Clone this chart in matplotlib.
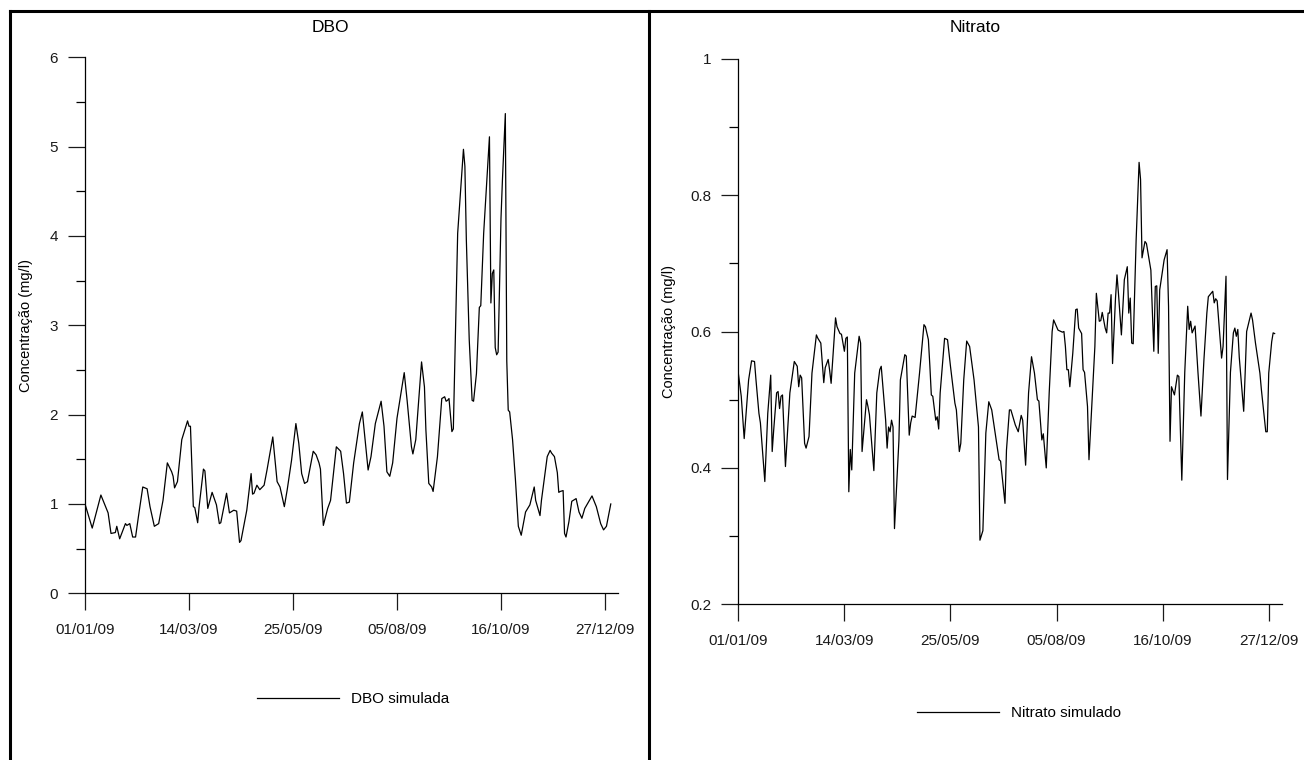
import numpy as np
import matplotlib.pyplot as plt
from matplotlib.lines import Line2D

plt.rcParams['font.family'] = ['Liberation Sans', 'DejaVu Sans']

start = np.datetime64('2009-01-01')
tick_dates = ['2009-01-01', '2009-03-14', '2009-05-25', '2009-08-05', '2009-10-16', '2009-12-27']
tick_labels = ['01/01/09', '14/03/09', '25/05/09', '05/08/09', '16/10/09', '27/12/09']

# DBO simulada (mg/l), dia do ano
dbo_day = [0, 5, 11, 16, 18, 21, 22, 24, 28, 29, 31, 33, 35, 37, 40, 43, 45, 48, 51, 54,
           57, 60, 61, 62, 64, 67, 71, 72, 73, 75, 76, 78, 79, 82, 83, 85, 88, 91, 93, 94,
           98, 100, 103, 105, 107, 108, 112, 115, 116, 117, 119, 121, 124, 126, 130, 133, 135, 138, 140, 143,
           146, 148, 150, 152, 154, 158, 160, 162, 163, 165, 168, 170, 174, 177, 179, 181, 183, 186, 190, 192,
           196, 198, 201, 205, 207, 209, 211, 213, 216, 221, 223, 226, 227, 229, 233, 235, 236, 238, 240, 241,
           244, 247, 249, 250, 251, 252, 254, 255, 258, 262, 263, 264, 266, 268, 269, 271, 273, 274, 276, 280,
           281, 282, 283, 284, 285, 286, 288, 289, 291, 292, 293, 294, 296, 298, 300, 302, 304, 305, 308, 311,
           312, 315, 316, 320, 322, 323, 325, 327, 328, 329, 331, 332, 333, 335, 337, 340, 342, 344, 346, 351,
           354, 357, 359, 361, 364]
dbo_val = [1.00, 0.73, 1.10, 0.90, 0.67, 0.68, 0.75, 0.61, 0.78, 0.76, 0.78, 0.63, 0.63, 0.86, 1.19, 1.17, 0.97, 0.75, 0.78, 1.04,
           1.46, 1.36, 1.31, 1.18, 1.25, 1.72, 1.93, 1.87, 1.87, 0.97, 0.96, 0.79, 0.97, 1.39, 1.37, 0.95, 1.13, 0.99, 0.78, 0.79,
           1.12, 0.90, 0.93, 0.92, 0.57, 0.59, 0.93, 1.34, 1.11, 1.12, 1.21, 1.16, 1.21, 1.38, 1.75, 1.25, 1.19, 0.97, 1.16, 1.49,
           1.90, 1.68, 1.34, 1.23, 1.25, 1.59, 1.55, 1.46, 1.39, 0.76, 0.95, 1.04, 1.64, 1.59, 1.34, 1.01, 1.02, 1.46, 1.90, 2.03,
           1.38, 1.53, 1.90, 2.15, 1.87, 1.36, 1.31, 1.46, 1.96, 2.47, 2.16, 1.64, 1.56, 1.72, 2.59, 2.31, 1.83, 1.23, 1.19, 1.14,
           1.53, 2.18, 2.20, 2.15, 2.16, 2.18, 1.81, 1.84, 4.03, 4.97, 4.78, 3.96, 2.84, 2.16, 2.15, 2.46, 3.20, 3.22, 4.03, 5.11,
           3.25, 3.58, 3.62, 2.75, 2.67, 2.70, 4.20, 4.63, 5.37, 2.60, 2.05, 2.03, 1.72, 1.27, 0.75, 0.65, 0.82, 0.91, 0.99, 1.19,
           1.04, 0.87, 1.04, 1.53, 1.60, 1.57, 1.53, 1.35, 1.13, 1.14, 1.15, 0.67, 0.63, 0.80, 1.03, 1.06, 0.91, 0.84, 0.95, 1.09,
           0.97, 0.78, 0.71, 0.75, 1.00]

# Nitrato simulado (mg/l)
nit_day = [0, 2, 4, 7, 9, 11, 12, 14, 15, 18, 20, 22, 23, 24, 26, 27, 28, 29, 30, 32,
           35, 38, 40, 41, 42, 43, 45, 46, 48, 50, 53, 54, 56, 58, 59, 61, 62, 63, 66, 67,
           69, 70, 72, 73, 74, 75, 76, 77, 79, 82, 83, 84, 87, 88, 89, 92, 94, 96, 97, 100,
           101, 102, 103, 104, 105, 106, 109, 110, 113, 114, 116, 117, 118, 120, 123, 126, 127, 129, 130, 131,
           132, 134, 135, 136, 137, 140, 142, 144, 147, 148, 150, 151, 153, 155, 157, 160, 163, 164, 166, 168,
           170, 172, 174, 177, 178, 181, 182, 184, 185, 188, 190, 192, 193, 195, 197, 199, 201, 203, 204, 206,
           207, 209, 211, 213, 214, 217, 220, 221, 222, 223, 224, 225, 227, 229, 230, 231, 233, 234, 235, 237,
           238, 240, 242, 243, 245, 246, 247, 249, 250, 251, 252, 253, 254, 256, 257, 258, 260, 262, 264, 265,
           266, 267, 268, 270, 272, 273, 274, 276, 277, 280, 282, 283, 284, 285, 286, 289, 291, 292, 293, 294,
           296, 298, 299, 301, 303, 305, 306, 307, 308, 310, 312, 314, 316, 318, 319, 322, 323, 324, 325, 328,
           329, 331, 332, 334, 336, 337, 338, 339, 340, 343, 344, 345, 348, 349, 351, 354, 355, 358, 359, 360,
           362, 363, 364]
nit_val = [0.539, 0.505, 0.443, 0.529, 0.557, 0.556, 0.529, 0.480, 0.466, 0.380, 0.480, 0.536, 0.424, 0.455, 0.510, 0.512, 0.487, 0.505, 0.507, 0.402,
           0.510, 0.556, 0.549, 0.519, 0.536, 0.532, 0.436, 0.429, 0.446, 0.539, 0.595, 0.590, 0.583, 0.525, 0.547, 0.559, 0.543, 0.524, 0.620, 0.607,
           0.597, 0.596, 0.571, 0.590, 0.592, 0.365, 0.427, 0.397, 0.539, 0.593, 0.583, 0.424, 0.500, 0.490, 0.478, 0.396, 0.510, 0.544, 0.549, 0.470,
           0.429, 0.460, 0.453, 0.470, 0.460, 0.311, 0.440, 0.529, 0.566, 0.564, 0.448, 0.466, 0.476, 0.474, 0.539, 0.610, 0.607, 0.588, 0.550, 0.507,
           0.505, 0.470, 0.475, 0.457, 0.510, 0.590, 0.588, 0.549, 0.495, 0.485, 0.424, 0.436, 0.529, 0.586, 0.578, 0.529, 0.460, 0.294, 0.308, 0.451,
           0.497, 0.485, 0.456, 0.412, 0.410, 0.348, 0.426, 0.485, 0.485, 0.463, 0.453, 0.477, 0.470, 0.404, 0.510, 0.563, 0.539, 0.500, 0.498, 0.441,
           0.450, 0.400, 0.510, 0.600, 0.617, 0.602, 0.599, 0.600, 0.578, 0.544, 0.544, 0.519, 0.568, 0.632, 0.633, 0.605, 0.597, 0.544, 0.540, 0.490,
           0.412, 0.495, 0.578, 0.656, 0.615, 0.616, 0.628, 0.605, 0.598, 0.627, 0.627, 0.654, 0.553, 0.649, 0.683, 0.656, 0.595, 0.676, 0.695, 0.627,
           0.649, 0.583, 0.582, 0.734, 0.848, 0.823, 0.708, 0.732, 0.729, 0.690, 0.571, 0.666, 0.667, 0.568, 0.661, 0.705, 0.720, 0.637, 0.439, 0.519,
           0.507, 0.536, 0.534, 0.382, 0.540, 0.637, 0.603, 0.615, 0.598, 0.608, 0.539, 0.476, 0.558, 0.627, 0.651, 0.659, 0.642, 0.648, 0.645, 0.561,
           0.578, 0.681, 0.383, 0.540, 0.598, 0.605, 0.593, 0.603, 0.562, 0.483, 0.539, 0.600, 0.627, 0.617, 0.583, 0.539, 0.515, 0.453, 0.453, 0.539,
           0.585, 0.598, 0.597]

W, H = 1304, 760
fig = plt.figure(figsize=(W / 100, H / 100), dpi=100)

# eixos posicionados em pixels
ax1 = fig.add_axes([85 / W, 1 - 593.3 / H, (618 - 85) / W, (593.3 - 57.3) / H])
ax2 = fig.add_axes([738.3 / W, 1 - 604.3 / H, (1282 - 738.3) / W, (604.3 - 58.7) / H])

ticks = np.array(tick_dates, dtype='datetime64[D]')


def draw(ax, days, vals, label, ylim, major, minor, title, title_x, leg_xy):
    x = start + np.array(days, dtype='timedelta64[D]')
    ax.plot(x, vals, color='black', lw=0.9, label=label)
    ax.set_xlim(start, start + np.timedelta64(369, 'D'))
    ax.set_ylim(*ylim)
    ax.set_xticks(ticks)
    ax.set_xticklabels(tick_labels)
    ax.set_yticks(major)
    ax.set_yticks(minor, minor=True)
    ax.set_yticklabels([f'{v:g}' for v in major])
    for s in ['top', 'right']:
        ax.spines[s].set_visible(False)
    for s in ['left', 'bottom']:
        ax.spines[s].set_linewidth(0.9)
    ax.tick_params(which='major', direction='out', length=12.5, width=0.9,
                   labelsize=11, colors='#1a1a1a')
    ax.tick_params(which='minor', direction='out', length=6.5, width=0.9)
    ax.tick_params(axis='y', pad=7)
    ax.tick_params(axis='x', pad=9)
    ax.set_ylabel('Concentração (mg/l)', fontsize=10.5)
    fig.text(title_x / W, 1 - 28 / H, title, ha='center', va='center', fontsize=12.5)
    ax.legend(loc='center', bbox_to_anchor=(leg_xy[0] / W, 1 - leg_xy[1] / H),
              bbox_transform=fig.transFigure, frameon=False, fontsize=11,
              handlelength=5.4, handletextpad=0.8)


draw(ax1, dbo_day, dbo_val, 'DBO simulada', (0, 6),
     [0, 1, 2, 3, 4, 5, 6], np.arange(0.5, 6, 1.0), 'DBO', 330, (353, 699))
draw(ax2, nit_day, nit_val, 'Nitrato simulado', (0.2, 1.0),
     [0.2, 0.4, 0.6, 0.8, 1.0], [0.3, 0.5, 0.7, 0.9], 'Nitrato', 975, (1019, 713))

ax1.yaxis.set_label_coords((33 - 85) / 533, 0.5)
ax2.yaxis.set_label_coords((676 - 738.3) / 543.7, 0.5)

# molduras dos dois quadros
top = 1 - 11 / H
for xs, ys in [([10 / W, 1], [top, top]),
               ([10 / W, 10 / W], [0, top]),
               ([649 / W, 649 / W], [0, top])]:
    fig.add_artist(Line2D(xs, ys, transform=fig.transFigure, color='black', lw=2.2))

fig.savefig('out.png', dpi=100)
